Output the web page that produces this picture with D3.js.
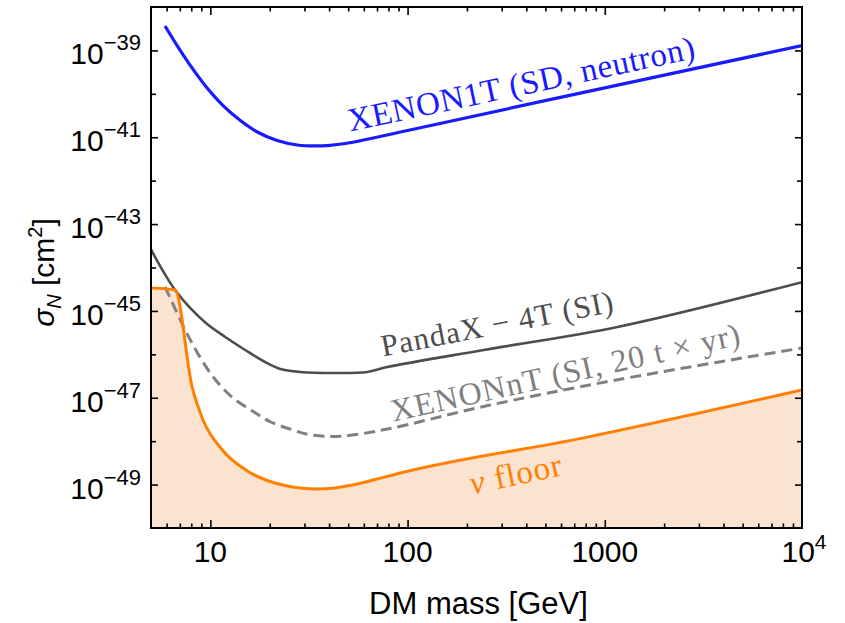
<!DOCTYPE html>
<html>
<head>
<meta charset="utf-8">
<script src="https://cdn.jsdelivr.net/npm/d3@7"></script>
<style>
  body { margin: 0; background: #fff; }
  text { font-family: "Liberation Sans", Arial, sans-serif; }
  .lbl { font-family: "Liberation Serif", "Times New Roman", serif; }
</style>
</head>
<body>
<svg id="chart" width="845" height="623"></svg>
<script>
// values: mass in GeV, cross section in cm^2

// XENON1T (SD, neutron)
var xenon1tMass  = [5.89, 6.86, 7.89, 9.4, 11.6, 14.2, 17.3, 21.8, 27.6, 34, 40.5, 48.3, 57.5, 100, 472, 10000];
var xenon1tSigma = [3.65e-39, 1.19e-39, 4.59e-40, 1.56e-40, 5.38e-41, 2.43e-41, 1.32e-41, 8.41e-42,
                    6.63e-42, 6.3e-42, 6.53e-42, 7.18e-42, 8.3e-42, 1.43e-41, 6.6e-41, 1.29e-39];

// PandaX-4T (SI)
var pandaxMass  = [5, 5.75, 6.62, 7.89, 9.62, 11.9, 15.0, 18.9, 22.6, 28.5, 43, 62.4, 79, 243, 1160, 10000];
var pandaxSigma = [2.6e-44, 8.3e-45, 3.03e-45, 1.17e-45, 5.0e-46, 2.51e-46, 1.26e-46, 6.67e-47,
                   4.6e-47, 3.93e-47, 3.72e-47, 3.93e-47, 5.1e-47, 1.26e-46, 4.26e-46, 4.6e-45];

// XENONnT (SI, 20 t x yr) projection
var xenonntMass  = [5.89, 7.44, 8.87, 10.6, 13.0, 16.5, 20.1, 25.4, 32.1, 45.6, 79, 243, 1160, 10000];
var xenonntSigma = [3.6e-45, 3.7e-46, 8.5e-47, 2.6e-47, 1.0e-47, 4.8e-48, 2.8e-48, 1.9e-48,
                    1.4e-48, 1.3e-48, 1.9e-48, 6.3e-48, 2.6e-47, 1.4e-46];

// neutrino floor
var floorMass  = [5, 6.62, 8.08, 9.18, 11.5, 15.4, 19.4, 23.9, 28.5, 34.8, 43, 51.2, 68.6, 92, 780, 10000];
var floorSigma = [3.37e-45, 3.03e-45, 1.77e-47, 3.08e-48, 6.28e-49, 2.06e-49, 1.24e-49, 9.55e-50,
                  8.37e-50, 7.94e-50, 8.37e-50, 9.55e-50, 1.31e-49, 1.85e-49, 1.19e-48, 1.51e-47];

// axis ticks
var xMajorTicks = [10, 100, 1000, 10000];
var xTickBase   = ["10", "100", "1000", "10"];
var xTickSup    = ["", "", "", "4"];
var xMinorTicks = [6, 7, 8, 9, 20, 30, 40, 50, 60, 70, 80, 90,
                   200, 300, 400, 500, 600, 700, 800, 900,
                   2000, 3000, 4000, 5000, 6000, 7000, 8000, 9000];
var yLabelExp  = [-39, -41, -43, -45, -47, -49];
var yMinorExp  = [-40, -42, -44, -46, -48];

// curve labels, anchored at (mass, sigma)
var labelText  = ["XENON1T (SD, neutron)", "PandaX \u2212 4T (SI)", "XENONnT (SI, 20 t \u00d7 yr)", "floor"];
var labelMass  = [51.2, 75, 84.5, 213];
var labelSigma = [1.35e-41, 8.9e-47, 2.8e-48, 5.9e-50];

//set margin and size variables
var margin = {top: 7, right: 43, bottom: 95, left: 151},
    width = 845 - margin.left - margin.right,
    height = 623 - margin.top - margin.bottom;

var x = d3.scaleLog().domain([5, 1e4]).range([0, width]);
var y = d3.scaleLog().domain([1e-50, 1e-38]).range([height, 0]);

var svg = d3.select("#chart")
    .append("g")
    .attr("transform", "translate(" + margin.left + "," + margin.top + ")");

svg.append("clipPath").attr("id", "plot-clip")
    .append("rect").attr("width", width).attr("height", height);

var plot = svg.append("g").attr("clip-path", "url(#plot-clip)");

function pairs(ms, ss) {
    return ms.map(function(m, i) { return [m, ss[i]]; });
}

function makeLine(curve) {
    return d3.line()
        .x(function(d) { return x(d[0]); })
        .y(function(d) { return y(d[1]); })
        .curve(curve);
}
var line = makeLine(d3.curveCatmullRom.alpha(0.5));
//the floor has a sharp corner near 6.6 GeV, monotone keeps it
var floorLine = makeLine(d3.curveMonotoneX);

var area = d3.area()
    .x(function(d) { return x(d[0]); })
    .y0(height)
    .y1(function(d) { return y(d[1]); })
    .curve(d3.curveMonotoneX);

//shaded region under the neutrino floor
plot.append("path")
    .datum(pairs(floorMass, floorSigma))
    .attr("d", area)
    .attr("fill", "#fce3d0");

plot.append("path")
    .datum(pairs(xenonntMass, xenonntSigma))
    .attr("d", line)
    .attr("fill", "none")
    .attr("stroke", "#808080")
    .attr("stroke-width", 3)
    .attr("stroke-dasharray", "11,6");

plot.append("path")
    .datum(pairs(pandaxMass, pandaxSigma))
    .attr("d", line)
    .attr("fill", "none")
    .attr("stroke", "#4d4d4d")
    .attr("stroke-width", 2.6);

plot.append("path")
    .datum(pairs(floorMass, floorSigma))
    .attr("d", floorLine)
    .attr("fill", "none")
    .attr("stroke", "#ff8000")
    .attr("stroke-width", 3);

plot.append("path")
    .datum(pairs(xenon1tMass, xenon1tSigma))
    .attr("d", line)
    .attr("fill", "none")
    .attr("stroke", "#1a1aff")
    .attr("stroke-width", 3.2);

//curve labels
var labelColor  = ["#1a1aff", "#4d4d4d", "#808080", "#ff8000"];
var labelAngle  = [-12, -11, -12.5, -12];
var labelLength = [354, 236, 357, 93];
var labelSize   = [33, 31, 32, 33];
labelText.forEach(function(t, i) {
    var px = x(labelMass[i]), py = y(labelSigma[i]);
    var txt = svg.append("text")
        .attr("class", "lbl")
        .attr("transform", "translate(" + px + "," + py + ") rotate(" + labelAngle[i] + ")")
        .attr("font-size", labelSize[i])
        .attr("fill", labelColor[i])
        .attr("textLength", labelLength[i])
        .attr("lengthAdjust", "spacing");
    if (i == 3) {
        txt.append("tspan").attr("font-style", "italic").text("\u03bd");
        txt.append("tspan").text("\u00a0" + t);
    } else {
        txt.text(t);
    }
});

//ticks on all four sides, pointing inward
function tickAxis(axis, vals, size, transform) {
    svg.append("g")
        .attr("transform", transform)
        .call(axis.tickValues(vals).tickSize(-size).tickFormat(""))
        .call(function(g) { g.select(".domain").remove(); })
        .selectAll("line").attr("stroke", "#000").attr("stroke-width", 1.6);
}
var yMajorVals = yLabelExp.map(function(e) { return Math.pow(10, e); });
var yMinorVals = yMinorExp.map(function(e) { return Math.pow(10, e); });
tickAxis(d3.axisBottom(x), xMajorTicks.slice(0, 3), 8, "translate(0," + height + ")");
tickAxis(d3.axisBottom(x), xMinorTicks, 4.5, "translate(0," + height + ")");
tickAxis(d3.axisTop(x), xMajorTicks.slice(0, 3), 8, "translate(0,0)");
tickAxis(d3.axisTop(x), xMinorTicks, 4.5, "translate(0,0)");
tickAxis(d3.axisLeft(y), yMajorVals, 7, "translate(0,0)");
tickAxis(d3.axisLeft(y), yMinorVals, 5, "translate(0,0)");
tickAxis(d3.axisRight(y), yMajorVals, 7, "translate(" + width + ",0)");
tickAxis(d3.axisRight(y), yMinorVals, 5, "translate(" + width + ",0)");

//frame
svg.append("rect")
    .attr("width", width).attr("height", height)
    .attr("fill", "none").attr("stroke", "#000").attr("stroke-width", 2);

//x tick labels
xMajorTicks.forEach(function(v, i) {
    var t = svg.append("text")
        .attr("x", x(v) + (xTickSup[i] ? 2 : 0))
        .attr("y", height + 34)
        .attr("text-anchor", "middle")
        .attr("font-size", 30)
        .text(xTickBase[i]);
    if (xTickSup[i]) {
        t.append("tspan").attr("font-size", 21).attr("dy", -13).text(xTickSup[i]);
    }
});

//y tick labels
yLabelExp.forEach(function(e) {
    var t = svg.append("text")
        .attr("x", -10)
        .attr("y", y(Math.pow(10, e)) + 14)
        .attr("text-anchor", "end")
        .attr("font-size", 30)
        .text("10");
    t.append("tspan").attr("font-size", 22).attr("dy", -14)
        .text("\u2212" + Math.abs(e));
});

//axis titles
svg.append("text")
    .attr("x", width / 2 + 2)
    .attr("y", height + 86)
    .attr("text-anchor", "middle")
    .attr("font-size", 31)
    .text("DM mass [GeV]");

var yt = svg.append("text")
    .attr("transform", "translate(" + (-97) + "," + (height / 2 + 5) + ") rotate(-90)")
    .attr("text-anchor", "middle")
    .attr("font-size", 30);
yt.append("tspan").attr("font-style", "italic").text("\u03c3");
yt.append("tspan").attr("font-style", "italic").attr("font-size", 20).attr("dy", 7).text("N");
yt.append("tspan").attr("dy", -7).text(" [cm");
yt.append("tspan").attr("font-size", 20).attr("dy", -12).text("2");
yt.append("tspan").attr("dy", 12).text("]");
</script>
</body>
</html>
